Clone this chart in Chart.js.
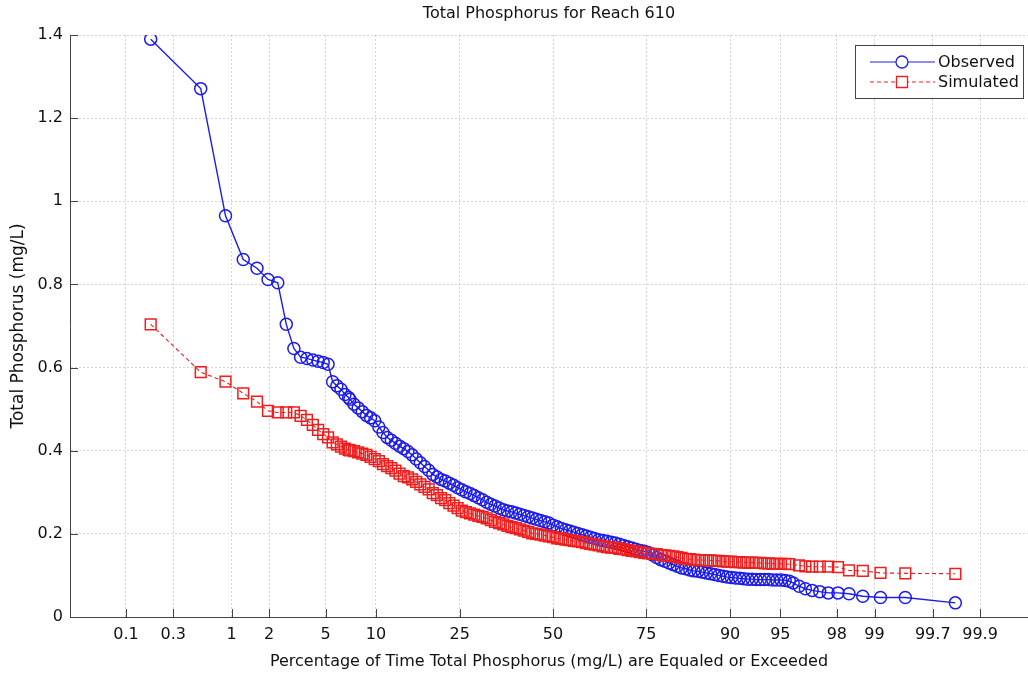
<!DOCTYPE html>
<html>
<head>
<meta charset="utf-8">
<script src="https://cdn.jsdelivr.net/npm/chart.js@4.4.1/dist/chart.umd.min.js"></script>
<style>
  html, body { margin: 0; padding: 0; background: #fff; overflow: hidden; }
  #wrap { width: 1028px; height: 675px; }
</style>
</head>
<body>
<div id="wrap"><canvas id="tp-chart" width="1028" height="675"></canvas></div>
<script>
// exceedance percentages on the probability axis
const tickPcts = [0.1, 0.3, 1, 2, 5, 10, 25, 50, 75, 90, 95, 98, 99, 99.7, 99.9];
const yTicks = [0, 0.2, 0.4, 0.6, 0.8, 1, 1.2, 1.4];

// % of time equaled or exceeded: upper tail, the dense middle, lower tail
const headPct = [0.18, 0.54, 0.89, 1.25, 1.61, 1.96, 2.32, 2.68, 3.04, 3.39, 3.75, 4.11, 4.46, 4.82, 5.18,
  5.54, 5.89, 6.25, 6.61, 6.96];
const midPct = [7.08, 7.49, 7.93, 8.38, 8.85, 9.34, 9.85, 10.38, 10.93, 11.51,
  12.10, 12.71, 13.35, 14.01, 14.69, 15.39, 16.11, 16.85, 17.62, 18.41,
  19.22, 20.05, 20.90, 21.77, 22.66, 23.58, 24.51, 25.46, 26.43, 27.43,
  28.43, 29.46, 30.50, 31.56, 32.64, 33.72, 34.83, 35.94, 37.07, 38.21,
  39.36, 40.52, 41.68, 42.86, 44.04, 45.22, 46.41, 47.61, 48.80, 50.00,
  51.20, 52.39, 53.59, 54.78, 55.96, 57.14, 58.32, 59.48, 60.64, 61.79,
  62.93, 64.06, 65.17, 66.28, 67.36, 68.44, 69.50, 70.54, 71.57, 72.57,
  73.57, 74.54, 75.49, 76.42, 77.34, 78.23, 79.10, 79.95, 80.78, 81.59,
  82.38, 83.15, 83.89, 84.61, 85.31, 85.99, 86.65, 87.29, 87.90, 88.49,
  89.07, 89.62, 90.15, 90.66, 91.15, 91.62, 92.07, 92.51, 92.92, 93.32,
  93.70, 94.06, 94.41, 94.74, 95.05, 95.35, 95.64];
const obsTailPct = [95.89, 96.25, 96.61, 96.96, 97.32, 97.68, 98.04, 98.39, 98.75, 99.11, 99.46, 99.82];
const simTailPct = [96.25, 96.61, 96.96, 97.32, 97.68, 98.04, 98.39, 98.75, 99.11, 99.46, 99.82];

// observed total phosphorus (mg/L)
const obsHead = [1.39, 1.271, 0.965, 0.86, 0.839, 0.812, 0.804, 0.704, 0.646, 0.625, 0.622, 0.618, 0.615, 0.612, 0.608,
  0.566, 0.556, 0.548, 0.535, 0.528];
const obsMid = [0.524, 0.512, 0.503, 0.494, 0.485, 0.479, 0.472, 0.457, 0.444, 0.432,
  0.425, 0.418, 0.411, 0.405, 0.398, 0.390, 0.380, 0.371, 0.362, 0.353,
  0.343, 0.337, 0.331, 0.327, 0.322, 0.317, 0.311, 0.306, 0.301, 0.297,
  0.292, 0.287, 0.282, 0.276, 0.271, 0.267, 0.262, 0.258, 0.255, 0.253,
  0.250, 0.247, 0.244, 0.241, 0.238, 0.235, 0.232, 0.229, 0.226, 0.221,
  0.217, 0.213, 0.210, 0.207, 0.204, 0.201, 0.198, 0.195, 0.192, 0.189,
  0.186, 0.184, 0.182, 0.180, 0.178, 0.175, 0.172, 0.169, 0.166, 0.163,
  0.160, 0.158, 0.155, 0.149, 0.143, 0.138, 0.134, 0.130, 0.126, 0.122,
  0.118, 0.116, 0.113, 0.111, 0.110, 0.108, 0.106, 0.104, 0.102, 0.100,
  0.098, 0.096, 0.095, 0.094, 0.093, 0.092, 0.091, 0.091, 0.090, 0.090,
  0.090, 0.090, 0.089, 0.089, 0.089, 0.088, 0.086];
const obsTail = [0.082, 0.074, 0.068, 0.064, 0.061, 0.058, 0.058, 0.056, 0.05, 0.047, 0.047, 0.034];

// simulated total phosphorus (mg/L)
const simHead = [0.704, 0.589, 0.566, 0.538, 0.518, 0.496, 0.492, 0.492, 0.492, 0.484, 0.474, 0.462, 0.45, 0.44, 0.432,
  0.42, 0.415, 0.41, 0.405, 0.402];
const simMid = [0.401, 0.399, 0.396, 0.393, 0.390, 0.385, 0.380, 0.375, 0.368, 0.363,
  0.358, 0.352, 0.345, 0.339, 0.336, 0.331, 0.325, 0.319, 0.313, 0.307,
  0.298, 0.293, 0.286, 0.281, 0.274, 0.268, 0.262, 0.256, 0.252, 0.249,
  0.246, 0.243, 0.241, 0.237, 0.233, 0.229, 0.226, 0.223, 0.219, 0.216,
  0.214, 0.211, 0.208, 0.205, 0.201, 0.200, 0.198, 0.196, 0.194, 0.192,
  0.189, 0.188, 0.186, 0.185, 0.183, 0.182, 0.180, 0.178, 0.176, 0.174,
  0.172, 0.170, 0.168, 0.167, 0.166, 0.164, 0.163, 0.161, 0.159, 0.158,
  0.156, 0.154, 0.153, 0.152, 0.151, 0.149, 0.148, 0.147, 0.146, 0.144,
  0.142, 0.140, 0.139, 0.138, 0.137, 0.137, 0.136, 0.136, 0.135, 0.135,
  0.134, 0.133, 0.133, 0.132, 0.132, 0.131, 0.131, 0.131, 0.130, 0.130,
  0.129, 0.129, 0.128, 0.128, 0.128, 0.128, 0.127];
const simTail = [0.124, 0.122, 0.121, 0.121, 0.121, 0.12, 0.112, 0.111, 0.106, 0.105, 0.104];

const BLUE = 'rgb(28,28,232)';
const RED = 'rgb(238,30,30)';
const FONT = 'DejaVu Sans';
const TEXT = '#111';

// inverse standard normal CDF (Acklam) - maps a probability onto the z axis
function probit(p) {
    const a = [-39.69683028665376, 220.9460984245205, -275.9285104469687, 138.357751867269, -30.66479806614716, 2.506628277459239];
    const b = [-54.47609879822406, 161.5858368580409, -155.6989798598866, 66.80131188771972, -13.28068155288572];
    const c = [-0.007784894002430293, -0.3223964580411365, -2.400758277161838, -2.549732539343734, 4.374664141464968, 2.938163982698783];
    const d = [0.007784695709041462, 0.3224671290700398, 2.445134137142996, 3.754408661907416];
    const plow = 0.02425;
    let q, r;
    if (p < plow) {
        q = Math.sqrt(-2 * Math.log(p));
        return (((((c[0]*q + c[1])*q + c[2])*q + c[3])*q + c[4])*q + c[5]) / ((((d[0]*q + d[1])*q + d[2])*q + d[3])*q + 1);
    }
    if (p > 1 - plow) {
        q = Math.sqrt(-2 * Math.log(1 - p));
        return -(((((c[0]*q + c[1])*q + c[2])*q + c[3])*q + c[4])*q + c[5]) / ((((d[0]*q + d[1])*q + d[2])*q + d[3])*q + 1);
    }
    q = p - 0.5;
    r = q * q;
    return (((((a[0]*r + a[1])*r + a[2])*r + a[3])*r + a[4])*r + a[5])*q / (((((b[0]*r + b[1])*r + b[2])*r + b[3])*r + b[4])*r + 1);
}

const toPoints = (pcts, vals) => pcts.map((p, i) => ({ x: probit(p / 100), y: vals[i] }));

const obsPoints = toPoints([...headPct, ...midPct, ...obsTailPct], [...obsHead, ...obsMid, ...obsTail]);
const simPoints = toPoints([...headPct, ...midPct, ...simTailPct], [...simHead, ...simMid, ...simTail]);

// small tick marks drawn inside the axes, plus the boxed legend with line samples
const axesExtras = {
    id: 'axesExtras',
    afterDraw(chart) {
        const { ctx, chartArea: ca, scales } = chart;
        ctx.save();
        ctx.strokeStyle = '#444';
        ctx.lineWidth = 1;
        ctx.beginPath();
        scales.x.ticks.forEach(t => {
            const px = Math.round(scales.x.getPixelForValue(t.value)) + 0.5;
            ctx.moveTo(px, ca.bottom);
            ctx.lineTo(px, ca.bottom - 8);
        });
        scales.y.ticks.forEach(t => {
            const py = Math.round(scales.y.getPixelForValue(t.value)) + 0.5;
            ctx.moveTo(ca.left, py);
            ctx.lineTo(ca.left + 8, py);
        });
        ctx.stroke();

        // legend
        const bx = ca.right - 173, by = ca.top + 10, bw = 168, bh = 53;
        ctx.fillStyle = '#fff';
        ctx.fillRect(bx, by, bw, bh);
        ctx.strokeStyle = '#444';
        ctx.strokeRect(bx + 0.5, by + 0.5, bw, bh);

        const rows = [
            { label: 'Observed', color: BLUE, dash: [], shape: 'circle', y: by + 17 },
            { label: 'Simulated', color: RED, dash: [4, 3], shape: 'rect', y: by + 37 }
        ];
        rows.forEach(r => {
            ctx.strokeStyle = r.color;
            ctx.lineWidth = 1;
            ctx.setLineDash(r.dash);
            ctx.beginPath();
            ctx.moveTo(bx + 15, r.y);
            ctx.lineTo(bx + 80, r.y);
            ctx.stroke();
            ctx.setLineDash([]);
            ctx.lineWidth = 1.3;
            ctx.fillStyle = '#fff';
            ctx.beginPath();
            if (r.shape === 'circle') {
                ctx.arc(bx + 47, r.y, 6, 0, Math.PI * 2);
            } else {
                ctx.rect(bx + 41.5, r.y - 5.5, 11, 11);
            }
            ctx.fill();
            ctx.stroke();
            ctx.fillStyle = TEXT;
            ctx.font = '16px "' + FONT + '"';
            ctx.textBaseline = 'middle';
            ctx.fillText(r.label, bx + 83, r.y + 1);
        });
        ctx.restore();
    }
};

const ctx = document.getElementById('tp-chart').getContext('2d');
new Chart(ctx, {
    type: 'line',
    data: {
        datasets: [
            {
                label: 'Observed',
                data: obsPoints,
                borderColor: BLUE,
                borderWidth: 1.4,
                pointStyle: 'circle',
                pointRadius: 6,
                pointBorderWidth: 1.5,
                pointBorderColor: BLUE,
                pointBackgroundColor: 'rgba(0,0,0,0)',
                tension: 0,
                order: 1
            },
            {
                label: 'Simulated',
                data: simPoints,
                borderColor: RED,
                borderWidth: 1.1,
                borderDash: [4, 3],
                pointStyle: 'rect',
                pointRadius: 7.6,
                pointBorderWidth: 1.5,
                pointBorderColor: RED,
                pointBackgroundColor: 'rgba(0,0,0,0)',
                tension: 0,
                order: 0
            }
        ]
    },
    options: {
        responsive: false,
        animation: false,
        // no extra room for marker overflow: the axes run to the canvas edge
        layout: { padding: 0, autoPadding: false },
        plugins: {
            legend: { display: false },
            tooltip: { enabled: false },
            title: {
                display: true,
                fullSize: false,
                text: 'Total Phosphorus for Reach 610',
                color: TEXT,
                font: { family: FONT, size: 16, weight: 'normal' },
                padding: { top: 4, bottom: 11.8 }
            }
        },
        scales: {
            x: {
                type: 'linear',
                min: -3.495,
                max: 3.437,
                afterBuildTicks: scale => { scale.ticks = tickPcts.map(p => ({ value: probit(p / 100) })); },
                afterFit: scale => {
                    scale.height = 58;
                    scale.paddingLeft = 0;
                    scale.paddingRight = 0;
                },
                ticks: {
                    autoSkip: false,
                    maxRotation: 0,
                    padding: 8,
                    color: TEXT,
                    font: { family: FONT, size: 16 },
                    callback: (v, i) => String(tickPcts[i])
                },
                grid: { color: 'rgba(0,0,0,0.17)', drawTicks: false },
                border: { color: '#444', width: 1, dash: [2, 2] },
                title: {
                    display: true,
                    text: 'Percentage of Time Total Phosphorus (mg/L) are Equaled or Exceeded',
                    color: TEXT,
                    font: { family: FONT, size: 16 },
                    padding: { top: 4, bottom: 4 }
                }
            },
            y: {
                min: 0,
                max: 1.4,
                afterBuildTicks: scale => { scale.ticks = yTicks.map(v => ({ value: v })); },
                afterFit: scale => { scale.width = 70; },
                ticks: {
                    padding: 7,
                    color: TEXT,
                    font: { family: FONT, size: 16 },
                    callback: v => String(v)
                },
                grid: { color: 'rgba(0,0,0,0.17)', drawTicks: false },
                border: { color: '#444', width: 1, dash: [2, 2] },
                title: {
                    display: true,
                    text: 'Total Phosphorus (mg/L)',
                    color: TEXT,
                    font: { family: FONT, size: 17 },
                    padding: { top: 8, bottom: 8 }
                }
            }
        }
    },
    plugins: [axesExtras]
});
</script>
</body>
</html>
